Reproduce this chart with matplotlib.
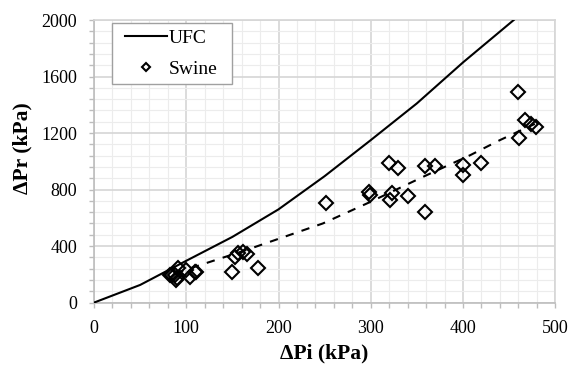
import matplotlib
matplotlib.use("Agg")
import matplotlib.pyplot as plt
from matplotlib.ticker import MultipleLocator
from matplotlib.lines import Line2D
from matplotlib.legend_handler import HandlerLine2D

# UFC curve
ufc_x = [0, 50, 100, 150, 200, 250, 300, 350, 400, 455]
ufc_y = [0, 125, 296, 465, 660, 895, 1150, 1410, 1700, 2000]

# Swine measurements
swine_x = [82, 84, 87.6, 89, 90, 91.5, 100, 104, 109, 111,
           150, 152.7, 156, 161.7, 165.4, 178,
           251, 298.6, 299.5,
           320, 330, 320.9, 322.7, 340.7, 358.9, 358.9, 369.7,
           399.8, 399.8, 419.3,
           459.4, 467, 474, 479, 460.4]
swine_y = [195, 195, 195, 160, 175, 242, 230, 183, 218, 218,
           218, 324, 348, 360, 341, 242,
           702, 785, 760,
           990, 955, 726, 773, 752, 643, 964, 970,
           973, 900, 990,
           1493, 1292, 1265, 1240, 1167]

# Dashed trend line
trend_x = [88, 104, 165, 248, 300, 357, 408, 440, 478]
trend_y = [205, 242, 372, 560, 714, 891, 1044, 1150, 1265]

xticks = [0, 100, 200, 300, 400, 500]
yticks = [0, 400, 800, 1200, 1600, 2000]

plt.rcParams['font.family'] = ['Liberation Serif', 'DejaVu Serif']

fig = plt.figure(figsize=(5.7, 3.65), dpi=100)
ax = fig.add_axes([0.165, 0.171, 0.809, 0.774])

ax.set_xlim(0, 500)
ax.set_ylim(0, 2000)
ax.set_xticks(xticks)
ax.set_yticks(yticks)
ax.xaxis.set_minor_locator(MultipleLocator(20))
ax.yaxis.set_minor_locator(MultipleLocator(80))
ax.grid(which='major', color='#d6d6d6', linewidth=1.2)
ax.grid(which='minor', color='#ececec', linewidth=0.8)
ax.set_axisbelow(True)

for s in ['top', 'right']:
    ax.spines[s].set_color('#d6d6d6')
    ax.spines[s].set_linewidth(1.2)
for s in ['left', 'bottom']:
    ax.spines[s].set_color('#bdbdbd')
    ax.spines[s].set_linewidth(1.2)

ax.tick_params(which='both', direction='out', length=3.5, width=1.0, color='#bdbdbd')
ax.tick_params(axis='x', which='major', labelsize=13, pad=9)
ax.tick_params(axis='y', which='major', labelsize=13, pad=8.7)

ax.plot(ufc_x, ufc_y, color='black', linewidth=1.5, zorder=3)
ax.plot(trend_x, trend_y, color='black', linewidth=1.5, linestyle=(0, (4, 4)), zorder=3)
ax.plot(swine_x, swine_y, linestyle='none', marker='D', markersize=7.3,
        markerfacecolor='none', markeredgecolor='black', markeredgewidth=1.5, zorder=4)

ax.set_xlabel('ΔPi (kPa)', fontsize=15.5, fontweight='bold')
ax.xaxis.set_label_coords(0.5, -(343 - 302.5) / 282.5)
ax.set_ylabel('ΔPr (kPa)', fontsize=15.5, fontweight='bold')
ax.yaxis.set_label_coords((32 - 94) / 461.0, 0.545)

handles = [Line2D([0], [0], color='black', linewidth=1.5),
           Line2D([0], [0], linestyle='none', marker='D', markersize=4.5,
                  markerfacecolor='none', markeredgecolor='black', markeredgewidth=1.5)]
leg = ax.legend(handles, ['UFC', 'Swine'], loc='upper left',
                bbox_to_anchor=(0.039, 0.5, 0.26, 0.489), mode='expand',
                borderaxespad=0, fontsize=14, frameon=True, fancybox=False,
                framealpha=1, edgecolor='#a0a0a0', handlelength=2.52,
                handletextpad=0.1, borderpad=0.3, labelspacing=0.7,
                handler_map={Line2D: HandlerLine2D(xpad=0.37)})
leg.get_frame().set_linewidth(1.0)

fig.savefig('out.png', dpi=100)
